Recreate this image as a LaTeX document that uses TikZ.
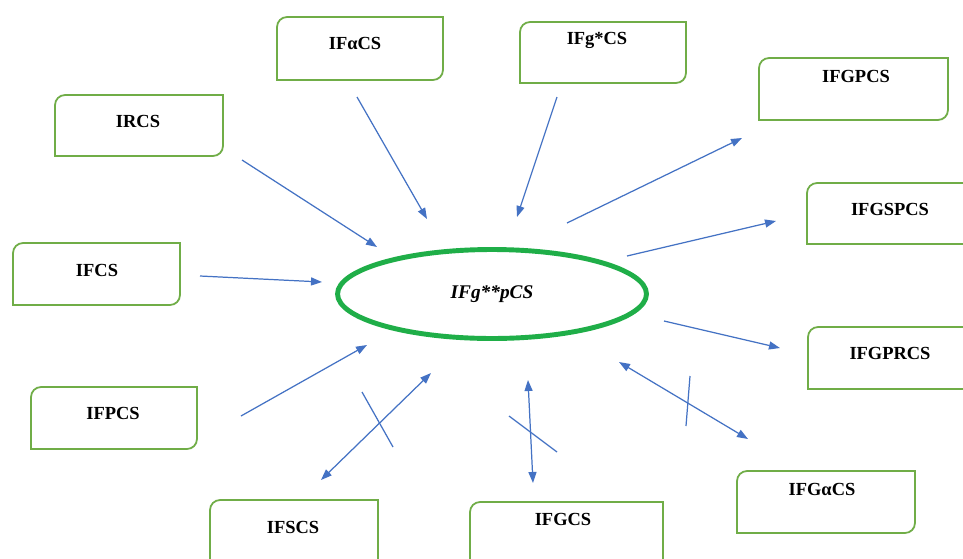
\documentclass[tikz,border=0pt]{standalone}
\usepackage{fontspec}
\setmainfont{Liberation Serif}
\usetikzlibrary{arrows.meta,shapes.geometric}
\definecolor{boxgreen}{HTML}{70AD47}
\definecolor{ringgreen}{HTML}{1FAE48}
\definecolor{arrowblue}{HTML}{4472C4}
\newcommand\boxoutline[1]{%
  \draw[boxline] (#1.south west) -- ([yshift=-0.2cm]#1.north west)
    arc[start angle=180,end angle=90,radius=0.2cm] -- (#1.north east)
    -- ([yshift=0.2cm]#1.south east)
    arc[start angle=0,end angle=-90,radius=0.2cm] -- cycle;}
\tikzset{
  boxnode/.style={inner sep=0pt, outer sep=0pt},
  boxline/.style={draw=boxgreen, line width=1pt},
  lbl/.style={font=\bfseries\fontsize{10.5}{12}\selectfont, inner sep=0pt},
  conn/.style={draw=arrowblue, line width=0.7pt, -{Triangle[length=2.2mm,width=1.6mm]}},
  dconn/.style={draw=arrowblue, line width=0.7pt, {Triangle[length=2.2mm,width=1.6mm]}-{Triangle[length=2.2mm,width=1.6mm]}},
  crossmark/.style={draw=arrowblue, line width=0.7pt},
}
\begin{document}
\begin{tikzpicture}[x=0.02cm,y=-0.02cm]
\useasboundingbox (0,0) rectangle (963,558);
\clip (0,0) rectangle (963,558);
\fill[white] (0,0) rectangle (963,558);

% boxes
\node[boxnode, minimum width=3.36cm, minimum height=1.22cm] (irc) at (139,125.5) {};
\node[boxnode, minimum width=3.32cm, minimum height=1.26cm] (ifa) at (360,48.5) {};
\node[boxnode, minimum width=3.32cm, minimum height=1.22cm] (ifg) at (603,52.5) {};
\node[boxnode, minimum width=3.78cm, minimum height=1.24cm] (gpc) at (853.5,89) {};
\node[boxnode, minimum width=3.56cm, minimum height=1.22cm] (gsp) at (896,213.5) {};
\node[boxnode, minimum width=3.54cm, minimum height=1.24cm] (gpr) at (896.5,358) {};
\node[boxnode, minimum width=3.56cm, minimum height=1.24cm] (gac) at (826,502) {};
\node[boxnode, minimum width=3.86cm, minimum height=1.36cm] (gcs) at (566.5,536) {};
\node[boxnode, minimum width=3.36cm, minimum height=1.40cm] (scs) at (294,535) {};
\node[boxnode, minimum width=3.32cm, minimum height=1.24cm] (pcs) at (114,418) {};
\node[boxnode, minimum width=3.34cm, minimum height=1.24cm] (fcs) at (96.5,274) {};
\foreach \b in {irc,ifa,ifg,gpc,gsp,gpr,gac,gcs,scs,pcs,fcs} {\boxoutline{\b}}

% labels
\node[lbl] (tirc) at (138,121) {IRCS};
\node[lbl] (tifa) at (355,43) {IFαCS};
\node[lbl] (tifg) at (597,40) {IFg*CS};
\node[lbl] (tgpc) at (856,76) {IFGPCS};
\node[lbl] (tgsp) at (890,209) {IFGSPCS};
\node[lbl] (tgpr) at (890,353) {IFGPRCS};
\node[lbl] (tgac) at (822,489) {IFGαCS};
\node[lbl] (tgcs) at (563,519) {IFGCS};
\node[lbl] (tscs) at (293,527) {IFSCS};
\node[lbl] (tpcs) at (113,413) {IFPCS};
\node[lbl] (tfcs) at (97,270) {IFCS};

% centre
\node[draw=ringgreen, line width=2.8pt, ellipse, minimum width=6.18cm, minimum height=1.78cm,
      inner sep=0pt, font=\bfseries\itshape\fontsize{11}{13}\selectfont] (c) at (492,294) {IFg**pCS};

% arrow end points
\coordinate (a1s) at (242,160);  \coordinate (a1e) at (377,247);
\coordinate (a2s) at (357,97);   \coordinate (a2e) at (427,219);
\coordinate (a3s) at (557,97);   \coordinate (a3e) at (517,217);
\coordinate (a4s) at (567,223);  \coordinate (a4e) at (742,138);
\coordinate (a5s) at (627,256);  \coordinate (a5e) at (776,221);
\coordinate (a6s) at (664,321);  \coordinate (a6e) at (780,348);
\coordinate (a7s) at (619,362);  \coordinate (a7e) at (748,439);
\coordinate (a8s) at (528,380);  \coordinate (a8e) at (533,483);
\coordinate (a9s) at (431,373);  \coordinate (a9e) at (321,480);
\coordinate (a10s) at (241,416); \coordinate (a10e) at (367,345);
\coordinate (a11s) at (200,276); \coordinate (a11e) at (322,282);

\draw[conn] (a1s) -- (a1e);
\draw[conn] (a2s) -- (a2e);
\draw[conn] (a3s) -- (a3e);
\draw[conn] (a4s) -- (a4e);
\draw[conn] (a5s) -- (a5e);
\draw[conn] (a6s) -- (a6e);
\draw[dconn] (a7s) -- (a7e);
\draw[dconn] (a8s) -- (a8e);
\draw[dconn] (a9s) -- (a9e);
\draw[conn] (a10s) -- (a10e);
\draw[conn] (a11s) -- (a11e);

% crossing strokes
\coordinate (x1s) at (690,376); \coordinate (x1e) at (686,426);
\coordinate (x2s) at (509,416); \coordinate (x2e) at (557,452);
\coordinate (x3s) at (362,392); \coordinate (x3e) at (393,447);
\draw[crossmark] (x1s) -- (x1e);
\draw[crossmark] (x2s) -- (x2e);
\draw[crossmark] (x3s) -- (x3e);
\end{tikzpicture}
\end{document}
